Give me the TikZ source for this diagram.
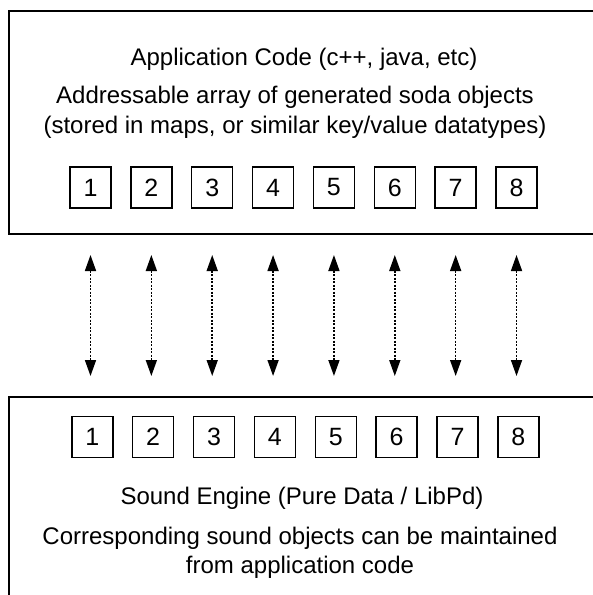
\documentclass[tikz,border=0pt]{standalone}
\usepackage{fontspec}
\setmainfont{Liberation Sans}
\usetikzlibrary{arrows.meta}
\begin{document}
\begin{tikzpicture}[x=1pt,y=-1pt,
  panel/.style={draw=black,line width=1.8pt},
  cell/.style={draw=black,line width=1.4pt,minimum width=41pt,minimum height=41pt,inner sep=0pt,font=\fontsize{25}{28}\selectfont},
  caption/.style={font=\fontsize{24}{29}\selectfont,align=center,inner sep=0pt},
  link/.style={line width=1.6pt,dash pattern=on 2pt off 1.5pt,{Triangle[length=16pt,width=11pt]}-{Triangle[length=16pt,width=11pt]}}]
\useasboundingbox (0,0) rectangle (593,595);
% application panel
\draw[panel] (600,11) -- (9,11) -- (9,234) -- (600,234);
% sound engine panel
\draw[panel] (600,397) -- (9,397) -- (9,600);
\node[caption] (apptitle) at (304,59) {Application Code (c++, java, etc)};
\node[caption,font=\fontsize{24}{30}\selectfont] (appdesc) at (295,112) {Addressable array of generated soda objects\\(stored in maps, or similar key/value datatypes)};
\node[caption] (sndtitle) at (302,498) {Sound Engine (Pure Data / LibPd)};
\node[caption] (snddesc) at (300,553) {Corresponding sound objects can be maintained\\from application code};
\foreach \i in {1,...,8} {
  \node[cell] (a\i) at ({90.5+60.86*(\i-1)},187.5) {\i};
  \node[cell] (s\i) at ({92.3+60.86*(\i-1)},437) {\i};
  \coordinate (up\i) at ({90.5+60.86*(\i-1)},255);
  \coordinate (dn\i) at ({90.5+60.86*(\i-1)},376);
  \draw[link] (up\i) -- (dn\i);
}
\end{tikzpicture}
\end{document}
